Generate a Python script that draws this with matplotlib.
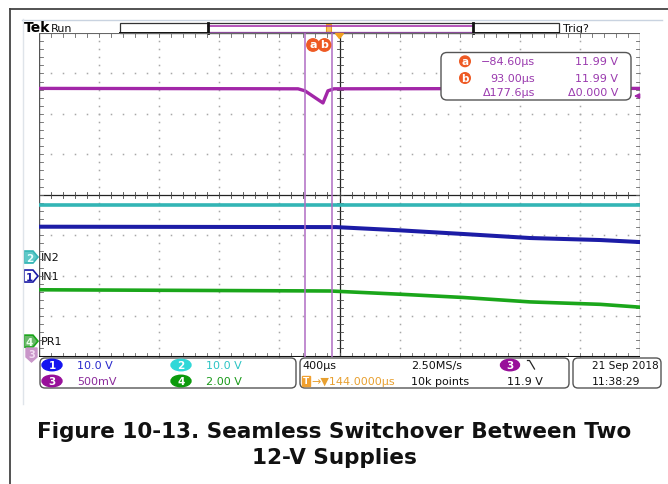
import matplotlib
matplotlib.use('Agg')
import matplotlib.pyplot as plt
from matplotlib.patches import FancyBboxPatch, Ellipse, Polygon, Rectangle, Circle
import numpy as np

# ---------------- data (time in µs, vertical in divisions) ----------------
T_CENTER = 144.0          # horizontal delay (µs)
T_PER_DIV = 400.0         # µs / div
ch3_t = [-1856, -132, -86, 34, 67, 107, 2144]
ch3_v = [2.63, 2.62, 2.57, 2.27, 2.57, 2.62, 2.63]
ch2_t = [-1856, 2144]
ch2_v = [-0.25, -0.25]
ch1_t = [-1856, 120, 547, 966, 1412, 1880, 2144]
ch1_v = [-0.79, -0.80, -0.88, -0.97, -1.07, -1.12, -1.17]
ch4_t = [-1856, 81, 547, 966, 1412, 1880, 2144]
ch4_v = [-2.35, -2.38, -2.46, -2.54, -2.65, -2.71, -2.78]
cursor_t = [-84.6, 93.0]
ground_div = {'2': -1.54, '1': -2.01, '4': -3.62}
ground_names = {'2': 'IN2', '1': 'IN1', '4': 'PR1'}
readout_time = ['\u221284.60\u00b5s', '93.00\u00b5s', '\u0394177.6\u00b5s']
readout_volt = ['11.99 V', '11.99 V', '\u03940.000 V']
ch_scales = {'1': '10.0 V', '2': '10.0 V', '3': '500mV', '4': '2.00 V'}

C1, C2, C3, C4 = '#1c1ca6', '#33b5b5', '#a227a8', '#1aa61a'
B1, B2, B3, B4 = '#1414f0', '#30d8d8', '#98109a', '#0c9a0c'
ORANGE = '#ee5a24'
TXT3 = '#9a3aae'

W, H = 668, 485
fig = plt.figure(figsize=(W / 100, H / 100), dpi=100)
bg = fig.add_axes([0, 0, 1, 1])
bg.set_xlim(0, W); bg.set_ylim(H, 0); bg.axis('off')

# outer frame
bg.plot([10, 10], [10, H], color='#444444', lw=1.3)
bg.plot([10, W], [10, 10], color='#444444', lw=1.3)
# scope screen faint border
bg.plot([22, 662], [20.5, 20.5], color='#c9d3e0', lw=1)
bg.plot([22.5, 22.5], [20, 405], color='#dfe4ea', lw=1)

# ---------------- graticule ----------------
GL, GR, GT, GB = 39, 640, 34, 357.5
T0 = T_CENTER - 5 * T_PER_DIV
T1 = T_CENTER + 5 * T_PER_DIV
ax = fig.add_axes([GL / W, 1 - GB / H, (GR - GL) / W, (GB - GT) / H])
ax.set_xlim(T0, T1); ax.set_ylim(-4, 4); ax.axis('off')
ax.patch.set_alpha(0)

gcol = '#a8a8a8'
ys = np.arange(-4, 4.001, 0.2)
xs = np.arange(T0, T1 + 0.1, T_PER_DIV / 5)
for i in range(1, 10):
    if i == 5:
        continue
    x = T0 + i * T_PER_DIV
    ax.plot([x] * len(ys), ys, ls='none', marker='s', ms=1.1, color=gcol, mew=0)
for j in range(1, 8):
    if j == 4:
        continue
    y = -4 + j
    ax.plot(xs, [y] * len(xs), ls='none', marker='s', ms=1.1, color=gcol, mew=0)
# centre cross
ax.plot([T0, T1], [0, 0], color='#222222', lw=0.9)
ax.plot([T_CENTER, T_CENTER], [-4, 4], color='#222222', lw=0.9)
tx = 3 / 60.1 * T_PER_DIV
ty = 3 / 40.4
for x in xs:
    ax.plot([x, x], [-ty, ty], color='#444444', lw=0.6)
    ax.plot([x, x], [4, 4 - 1.2 * ty], color='#666666', lw=0.6)
    ax.plot([x, x], [-4, -4 + 1.2 * ty], color='#666666', lw=0.6)
for y in ys:
    ax.plot([T_CENTER - tx, T_CENTER + tx], [y, y], color='#444444', lw=0.6)
    ax.plot([T0, T0 + 1.2 * tx], [y, y], color='#666666', lw=0.6)
    ax.plot([T1, T1 - 1.2 * tx], [y, y], color='#666666', lw=0.6)
# borders
ax.plot([T0, T0], [-4, 4], color='#555555', lw=1)
ax.plot([T1, T1], [-4, 4], color='#555555', lw=1)
ax.plot([T0, T1], [4, 4], color='#666666', lw=0.8)
ax.plot([T0, T1], [-4, -4], color='#111111', lw=2.2)

# traces
ax.plot(ch2_t, ch2_v, color=C2, lw=2.6, solid_joinstyle='round', zorder=5)
ax.plot(ch1_t, ch1_v, color=C1, lw=2.9, solid_joinstyle='round', zorder=5)
ax.plot(ch4_t, ch4_v, color=C4, lw=2.6, solid_joinstyle='round', zorder=5)
ax.plot(ch3_t, ch3_v, color=C3, lw=2.4, solid_joinstyle='round', zorder=6)
# cursors
for c in cursor_t:
    ax.plot([c, c], [-4, 4], color='#b06cc4', lw=1.1, zorder=7)

# overlay axes (drawn above the traces)
fg = fig.add_axes([0, 0, 1, 1])
fg.set_xlim(0, W); fg.set_ylim(H, 0); fg.axis('off')
fg.patch.set_alpha(0)

# channel reference labels
for k, col, fc, tc in [('2', C2, '#5ec8c8', '#e8ffff'), ('1', C1, '#ffffff', C1), ('4', C4, '#6ab86a', '#eaffea')]:
    yp = GB - (ground_div[k] + 4) / 8 * (GB - GT)
    bg.add_patch(Polygon([[24, yp - 6], [33, yp - 6], [38, yp], [33, yp + 6], [24, yp + 6]],
                         closed=True, facecolor=fc, edgecolor=col, lw=1.2))
    bg.text(29.5, yp + 0.5, k, ha='center', va='center', fontsize=7.5, color=tc, fontweight='bold')
    bg.text(41, yp, ground_names[k], ha='left', va='center', fontsize=8, color='#111111')
bg.add_patch(Polygon([[26, 349], [37, 349], [37, 358], [31.5, 363], [26, 358]], closed=True,
                     facecolor='#c996c9', edgecolor='#c996c9', lw=1))
bg.text(31.5, 355, '3', ha='center', va='center', fontsize=7, color='#f3dcf3', fontweight='bold')

# trigger level arrow (right)
fg.annotate('', xy=(631, 97), xytext=(641, 97),
            arrowprops=dict(arrowstyle='-|>', color=C3, lw=1.2, mutation_scale=7))

# ---------------- top bar ----------------
bg.text(24, 28.5, 'Tek', fontsize=10, fontweight='bold', color='black', va='center', ha='left',
        family='DejaVu Sans')
bg.text(51, 28.5, 'Run', fontsize=8, color='#111111', va='center', ha='left')
bg.add_patch(Rectangle((120, 23.5), 439, 10.5, facecolor='white', edgecolor='#333333', lw=0.9))
bg.plot([120, 559], [34, 34], color='#111111', lw=1.4)
bg.plot([208, 473], [27.3, 27.3], color=C3, lw=1.1)
bg.plot([208, 473], [32.5, 32.5], color='#8a4a9a', lw=0.9)
bg.plot([208, 208], [23.5, 34], color='#111111', lw=2)
bg.plot([473, 473], [23.5, 34], color='#111111', lw=2)
bg.add_patch(Rectangle((326, 25), 5, 8, facecolor='#f7c060', edgecolor='#e89a20', lw=0.8))
fg.add_patch(Polygon([[335.5, 34.5], [343.5, 34.5], [339.5, 39.5]], closed=True,
                     facecolor='#f2a020', edgecolor='#f2a020'))
bg.text(563, 28.5, 'Trig?', fontsize=8, color='#111111', va='center', ha='left')

# cursor labels
for cx, lab in [(313, 'a'), (324.5, 'b')]:
    fg.add_patch(Circle((cx, 46), 6.2, facecolor=ORANGE, edgecolor=ORANGE))
    fg.text(cx, 45.5, lab, ha='center', va='center', fontsize=8, color='white', fontweight='bold')

# readout box
fg.add_patch(FancyBboxPatch((441, 53.5), 190, 47.5, boxstyle='round,pad=0,rounding_size=6',
                            facecolor='white', edgecolor='#555555', lw=1, zorder=8))
for row, (yr, tt, vv) in enumerate(zip([62.3, 79, 92.7], readout_time, readout_volt)):
    if row < 2:
        fg.add_patch(Circle((465, yr), 5.3, facecolor=ORANGE, edgecolor=ORANGE, zorder=9))
        fg.text(465, yr - 0.5, 'ab'[row], ha='center', va='center', fontsize=7.5, color='white',
                fontweight='bold', zorder=10)
    fg.text(535, yr, tt, ha='right', va='center', fontsize=8, color=TXT3, zorder=10)
    fg.text(618, yr, vv, ha='right', va='center', fontsize=8, color=TXT3, zorder=10)

# ---------------- bottom status bar ----------------
for x0, x1 in [(40, 296), (300, 569), (573, 661)]:
    fg.add_patch(FancyBboxPatch((x0, 359), x1 - x0, 30, boxstyle='round,pad=0,rounding_size=5',
                                facecolor='white', edgecolor='#555555', lw=1))
R1, R2 = 366, 382
for k, ex, ey, fc, tcol in [('1', 52, R1, B1, '#2a2acc'), ('2', 181, R1, B2, '#2cc4c4'),
                             ('3', 52, R2, B3, '#8a2a9a'), ('4', 181, R2, B4, '#1a9a1a')]:
    fg.add_patch(Ellipse((ex, ey), 20, 11.5, facecolor=fc, edgecolor=fc))
    fg.text(ex, ey, k, ha='center', va='center', fontsize=7.5, color='white', fontweight='bold')
    fg.text(ex + 25, ey, ch_scales[k], ha='left', va='center', fontsize=8, color=tcol)

fg.text(302, R1, '400\u00b5s', ha='left', va='center', fontsize=8, color='#111111')
fg.add_patch(Rectangle((302, 376.5), 8, 10, facecolor='#f0a030', edgecolor='#f0a030'))
fg.text(306, R2, 'T', ha='center', va='center', fontsize=6.5, color='white', fontweight='bold')
fg.text(311, R2, '\u2192\u25bc144.0000\u00b5s', ha='left', va='center', fontsize=8, color='#e8a030')
fg.text(411, R1, '2.50MS/s', ha='left', va='center', fontsize=8, color='#111111')
fg.text(411, R2, '10k points', ha='left', va='center', fontsize=8, color='#111111')
fg.add_patch(Ellipse((510, R1), 19, 11.5, facecolor=B3, edgecolor=B3))
fg.text(510, R1, '3', ha='center', va='center', fontsize=7.5, color='white', fontweight='bold')
fg.plot([527.5, 529.5, 534.5], [361.5, 361.5, 370], color='#222222', lw=0.9)
fg.text(507, R2, '11.9 V', ha='left', va='center', fontsize=8, color='#111111')
fg.text(592, R1, '21 Sep 2018', ha='left', va='center', fontsize=7.6, color='#111111')
fg.text(592, R2, '11:38:29', ha='left', va='center', fontsize=7.8, color='#111111')

# ---------------- caption ----------------
fg.text(334, 432, 'Figure 10-13. Seamless Switchover Between Two', ha='center', va='center',
        fontsize=15.5, fontweight='bold', family='DejaVu Sans', color='#111111')
fg.text(334, 458, '12-V Supplies', ha='center', va='center',
        fontsize=15.5, fontweight='bold', family='DejaVu Sans', color='#111111')

fig.savefig('out.png', dpi=100)
